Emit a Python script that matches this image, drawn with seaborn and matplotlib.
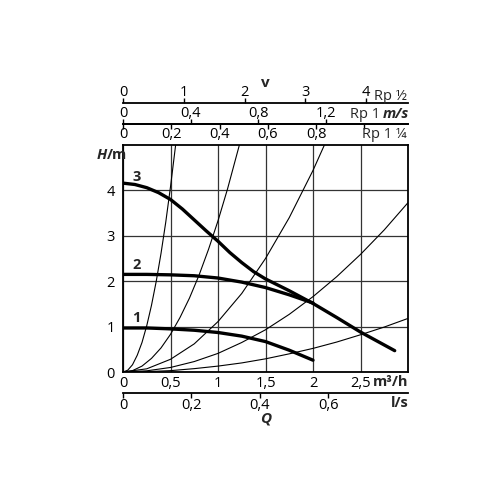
import pandas as pd
import seaborn as sns
import matplotlib.pyplot as plt

# pump curves (Q in m3/h, H in m)
q_speed1 = [0, 0.25, 0.5, 0.75, 1.0, 1.25, 1.5, 1.75, 2.0]
h_speed1 = [0.97, 0.97, 0.95, 0.92, 0.87, 0.79, 0.67, 0.48, 0.26]
q_speed2 = [0, 0.25, 0.5, 0.75, 1.0, 1.25, 1.5, 1.75, 2.0]
h_speed2 = [2.15, 2.15, 2.14, 2.12, 2.07, 1.98, 1.86, 1.70, 1.52]
q_speed3 = [0, 0.125, 0.25, 0.375, 0.5, 0.625, 0.75, 0.875, 1.0, 1.125, 1.25, 1.375,
            1.5, 1.75, 2.0, 2.25, 2.5, 2.86]
h_speed3 = [4.16, 4.13, 4.06, 3.95, 3.80, 3.59, 3.35, 3.11, 2.88, 2.63, 2.41, 2.21,
            2.05, 1.79, 1.51, 1.20, 0.88, 0.47]

# thin system curves
q_sys_a = [0, 0.05, 0.1, 0.15, 0.2, 0.25, 0.3, 0.35, 0.4, 0.45, 0.5, 0.554]
h_sys_a = [0, 0.04, 0.16, 0.37, 0.65, 1.02, 1.47, 2.0, 2.61, 3.3, 4.08, 5.0]
q_sys_b = [0, 0.1, 0.2, 0.3, 0.4, 0.5, 0.6, 0.7, 0.8, 0.9, 1.0, 1.1, 1.225]
h_sys_b = [0, 0.03, 0.13, 0.3, 0.53, 0.83, 1.2, 1.63, 2.13, 2.7, 3.33, 4.03, 5.0]
q_sys_c = [0, 0.25, 0.5, 0.75, 1.0, 1.25, 1.5, 1.75, 2.0, 2.12]
h_sys_c = [0, 0.07, 0.28, 0.62, 1.11, 1.73, 2.5, 3.4, 4.44, 5.0]
q_sys_d = [0, 0.25, 0.5, 0.75, 1.0, 1.25, 1.5, 1.75, 2.0, 2.25, 2.5, 2.75, 3.0]
h_sys_d = [0, 0.026, 0.10, 0.23, 0.41, 0.65, 0.93, 1.27, 1.66, 2.1, 2.59, 3.13, 3.73]
q_sys_e = [0, 0.25, 0.5, 0.75, 1.0, 1.25, 1.5, 1.75, 2.0, 2.25, 2.5, 2.75, 3.0]
h_sys_e = [0, 0.008, 0.03, 0.074, 0.13, 0.2, 0.29, 0.4, 0.52, 0.66, 0.82, 0.99, 1.18]

# axis ticks
q_ticks = [0, 0.5, 1, 1.5, 2, 2.5]
q_labels = ["0", "0,5", "1", "1,5", "2", "2,5"]
h_ticks = [0, 1, 2, 3, 4]
v_half_ticks = [0, 1, 2, 3, 4]
v_half_labels = ["0", "1", "2", "3", "4"]
v_one_ticks = [0, 0.4, 0.8, 1.2]
v_one_labels = ["0", "0,4", "0,8", "1,2"]
v_quarter_ticks = [0, 0.2, 0.4, 0.6, 0.8, 1.0]
v_quarter_labels = ["0", "0,2", "0,4", "0,6", "0,8", ""]
ls_ticks = [0, 0.2, 0.4, 0.6]
ls_labels = ["0", "0,2", "0,4", "0,6"]

# m3/h per m/s for each pipe size, m3/h per l/s
k_half, k_one, k_quarter, k_ls = 0.64, 1.78, 2.54, 3.6

sns.set_theme(style="white")
plt.rcParams["font.family"] = ["Open Sans", "DejaVu Sans"]
fs = 10.5

pump = pd.concat([
    pd.DataFrame({"Q": q, "H": h, "curve": n})
    for n, (q, h) in enumerate([(q_speed1, h_speed1), (q_speed2, h_speed2), (q_speed3, h_speed3)])
])
system = pd.concat([
    pd.DataFrame({"Q": q, "H": h, "curve": n})
    for n, (q, h) in enumerate([(q_sys_a, h_sys_a), (q_sys_b, h_sys_b), (q_sys_c, h_sys_c),
                                (q_sys_d, h_sys_d), (q_sys_e, h_sys_e)])
])

fig = plt.figure(figsize=(5, 5), dpi=100)
ax = fig.add_axes([0.246, 0.256, 0.57, 0.454])

sns.lineplot(data=system, x="Q", y="H", units="curve", estimator=None, sort=False,
             color="black", lw=0.8, ax=ax)
sns.lineplot(data=pump, x="Q", y="H", units="curve", estimator=None, sort=False,
             color="black", lw=2.4, ax=ax)

ax.set_xlim(0, 3)
ax.set_ylim(0, 5)
ax.set_xticks(q_ticks, q_labels)
ax.set_yticks(h_ticks)
ax.grid(True, color="#333333", lw=0.9)
ax.tick_params(length=0, labelsize=fs, pad=3, colors="black")
ax.tick_params(axis="y", pad=6)
ax.set_xlabel("")
ax.set_ylabel("")
for s in ax.spines.values():
    s.set_visible(True)
    s.set_color("black")
    s.set_linewidth(1.3)

for txt, y in zip(["1", "2", "3"], [1.19, 2.36, 4.3]):
    ax.text(0.14, y, txt, fontsize=fs, fontweight="bold", ha="center", va="center")


def sec_axis(loc, k, ticks, labels, align=None):
    sec = ax.secondary_xaxis(loc, functions=(lambda q, k=k: q / k, lambda v, k=k: v * k))
    if align:
        sec.set_alignment(align)
    sec.set_xticks(ticks, labels)
    sec.tick_params(axis="x", length=3.5, width=1, direction="out", labelsize=fs,
                    pad=-1.5, colors="black")
    for s in sec.spines.values():
        s.set_linewidth(1.3)
        s.set_color("black")
    return sec


sec_axis(1.185, k_half, v_half_ticks, v_half_labels)
sec_axis(1.0925, k_one, v_one_ticks, v_one_labels)
sec_axis(1.0925, k_quarter, v_quarter_ticks, v_quarter_labels, align="bottom")
ls_ax = sec_axis(-0.0925, k_ls, ls_ticks, ls_labels)
ls_ax.tick_params(pad=0)

# texts
fig.text(0.53, 0.834, "v", fontsize=fs + 0.5, fontweight="bold", ha="center", va="center")
fig.text(0.814, 0.808, "Rp ½", fontsize=fs, ha="right", va="center")
fig.text(0.817, 0.772, "m/s", fontsize=fs, fontweight="bold", style="italic",
         ha="right", va="center")
fig.text(0.760, 0.772, "Rp 1", fontsize=fs, ha="right", va="center")
fig.text(0.814, 0.730, "Rp 1 ¼", fontsize=fs, ha="right", va="center")
fig.text(0.817, 0.236, "m³/h", fontsize=fs, fontweight="bold", ha="right", va="center")
fig.text(0.817, 0.194, "l/s", fontsize=fs, fontweight="bold", ha="right", va="center")
fig.text(0.532, 0.163, "Q", fontsize=fs + 0.5, fontweight="bold", style="italic",
         ha="center", va="center")
fig.text(0.213, 0.690, "H", fontsize=fs, fontweight="bold", style="italic", ha="right", va="center")
fig.text(0.213, 0.690, "/m", fontsize=fs, fontweight="bold", ha="left", va="center")

fig.savefig("out.png", dpi=100, facecolor="white")
